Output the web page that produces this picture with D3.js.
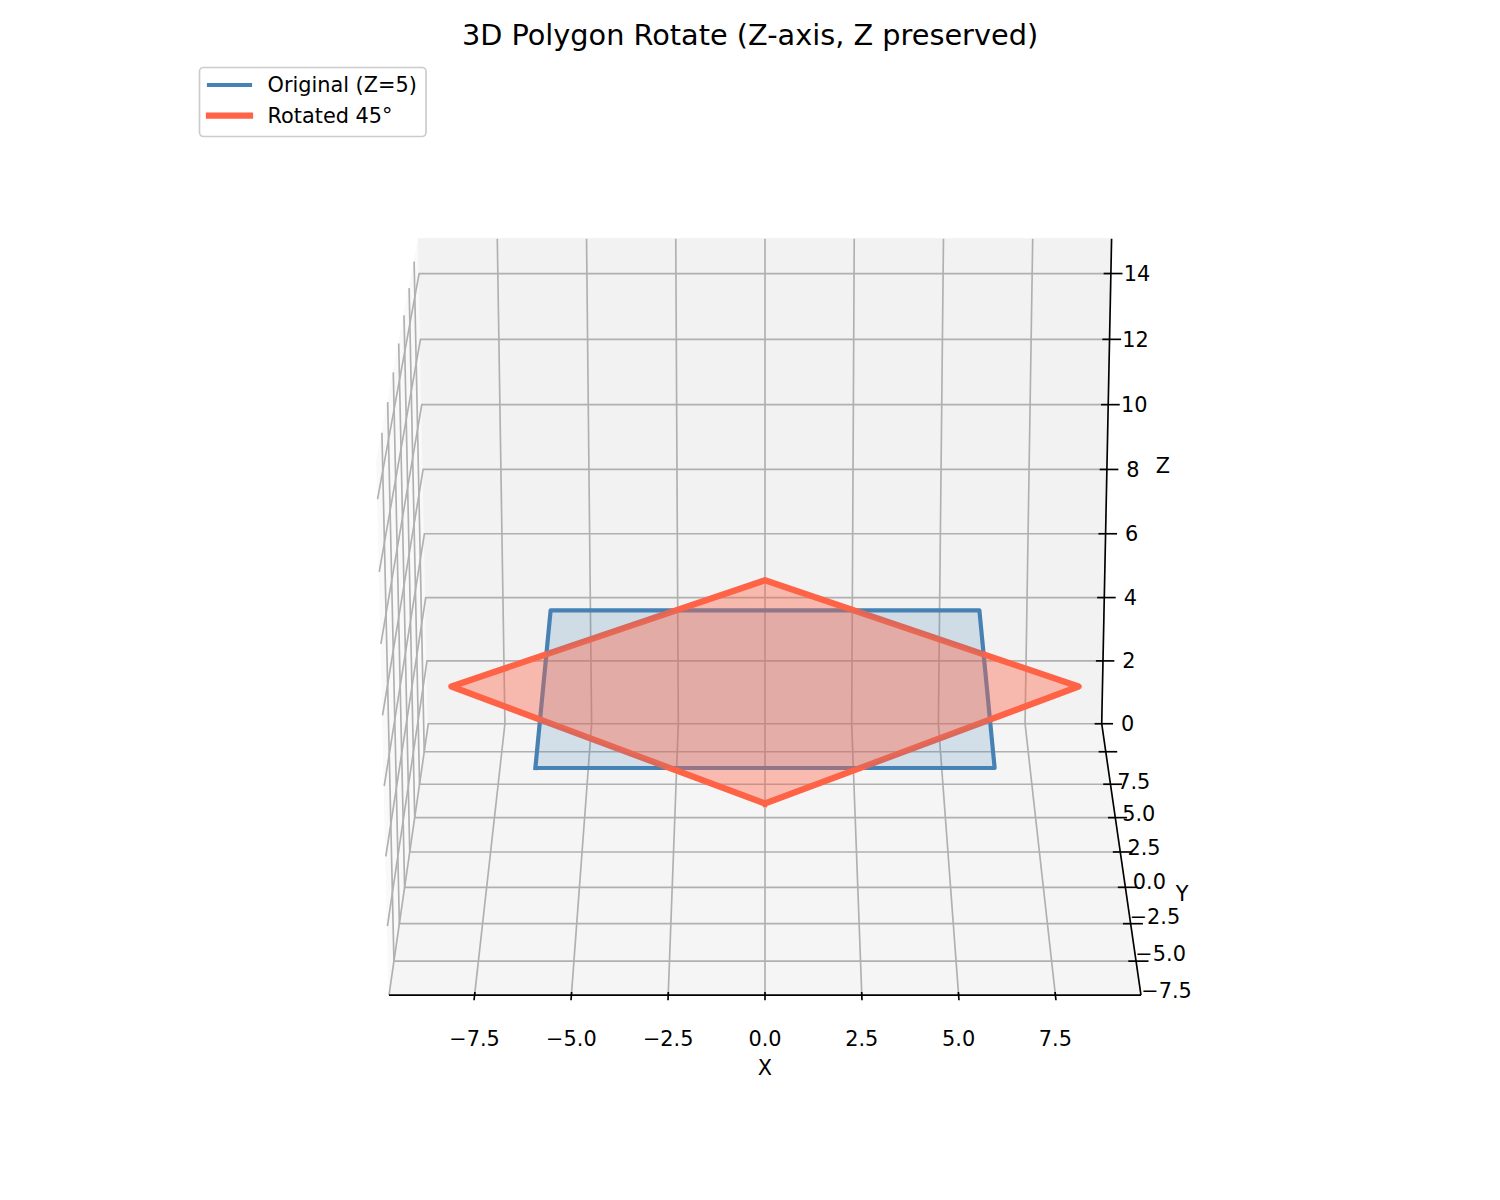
<!DOCTYPE html>
<html>
<head>
<meta charset="utf-8">
<script src="https://d3js.org/d3.v7.min.js"></script>
<style>
    body { margin: 0; background: #fff; }
    text { font-family: "DejaVu Sans"; fill: #000; }
</style>
</head>
<body>
<svg id="chart" width="1500" height="1200"></svg>
<script>
// Chart values
var xTicks = [-7.5, -5, -2.5, 0, 2.5, 5, 7.5];
var yTicks = [-7.5, -5, -2.5, 0, 2.5, 5, 7.5];
var zTicks = [0, 2, 4, 6, 8, 10, 12, 14];
var polygonZ = 5;
var originalX = [-6, 6, 6, -6];
var originalY = [-6, -6, 6, 6];
var rotatedX = [0, 8.485, 0, -8.485];
var rotatedY = [-8.485, 0, 8.485, 0];
var legendLabels = ["Original (Z=5)", "Rotated 45°"];

var blue = "#4682B4", red = "#FF6347", gridColor = "#b0b0b0";

// View of the 3D box, elev 20 looking along +y
var elev = 20 * Math.PI / 180, dist = 10;
var halfXY = 0.5952, halfZ = 0.4464;
var focal = 6060, centerX = 765, centerY = 601.6;

var xScale = d3.scaleLinear().domain([-9.71, 9.71]).range([-halfXY, halfXY]);
var yScale = d3.scaleLinear().domain([-9.71, 9.71]).range([-halfXY, halfXY]);
var zScale = d3.scaleLinear().domain([0, 15.05]).range([-halfZ, halfZ]);

// Box coordinates to screen pixels
function project(p){
    var depth = dist + p[1] * Math.cos(elev) - p[2] * Math.sin(elev);
    var up = p[1] * Math.sin(elev) + p[2] * Math.cos(elev);
    return [centerX + focal * p[0] / depth, centerY - focal * up / depth];
}

var line3d = d3.line().x(function(p){ return project(p)[0]; }).y(function(p){ return project(p)[1]; });
var svg = d3.select("#chart");

function path3d(points, closed){
    return line3d(points) + (closed ? "Z" : "");
}

// Panes
var panes = [
    {c: "#f9f9f9", p: [[-halfXY, -halfXY, -halfZ], [-halfXY, halfXY, -halfZ], [-halfXY, halfXY, halfZ], [-halfXY, -halfXY, halfZ]]},
    {c: "#f2f2f2", p: [[-halfXY, halfXY, -halfZ], [halfXY, halfXY, -halfZ], [halfXY, halfXY, halfZ], [-halfXY, halfXY, halfZ]]},
    {c: "#f5f5f5", p: [[-halfXY, -halfXY, -halfZ], [halfXY, -halfXY, -halfZ], [halfXY, halfXY, -halfZ], [-halfXY, halfXY, -halfZ]]}
];
svg.selectAll("path.pane").data(panes).enter().append("path")
    .attr("class", "pane")
    .attr("d", function(d){ return path3d(d.p, true); })
    .attr("fill", function(d){ return d.c; })
    .attr("stroke", function(d){ return d.c; })
    .attr("stroke-width", 1);

// Gridlines, each bends round the back corner of the box
var gridLines = [];
xTicks.forEach(function(t){
    var x = xScale(t);
    gridLines.push([[x, -halfXY, -halfZ], [x, halfXY, -halfZ], [x, halfXY, halfZ]]);
});
yTicks.forEach(function(t){
    var y = yScale(t);
    gridLines.push([[halfXY, y, -halfZ], [-halfXY, y, -halfZ], [-halfXY, y, halfZ]]);
});
zTicks.forEach(function(t){
    var z = zScale(t);
    gridLines.push([[-halfXY, -halfXY, z], [-halfXY, halfXY, z], [halfXY, halfXY, z]]);
});
svg.selectAll("path.grid").data(gridLines).enter().append("path")
    .attr("class", "grid")
    .attr("d", function(d){ return path3d(d, false); })
    .attr("fill", "none")
    .attr("stroke", gridColor)
    .attr("stroke-width", 1.67);

// Axis lines
var axisLines = [
    [[-halfXY, -halfXY, -halfZ], [halfXY, -halfXY, -halfZ]],
    [[halfXY, -halfXY, -halfZ], [halfXY, halfXY, -halfZ]],
    [[halfXY, halfXY, -halfZ], [halfXY, halfXY, halfZ]]
];
var tickIn = 0.0125, tickOut = 0.02;
xTicks.forEach(function(t){
    axisLines.push([[xScale(t), -halfXY + tickIn, -halfZ], [xScale(t), -halfXY - tickOut, -halfZ]]);
});
yTicks.forEach(function(t){
    axisLines.push([[halfXY - tickIn, yScale(t), -halfZ], [halfXY + tickOut, yScale(t), -halfZ]]);
});
zTicks.forEach(function(t){
    axisLines.push([[halfXY - tickIn, halfXY, zScale(t)], [halfXY + tickOut, halfXY, zScale(t)]]);
});
svg.selectAll("path.axis").data(axisLines).enter().append("path")
    .attr("class", "axis")
    .attr("d", function(d){ return path3d(d, false); })
    .attr("fill", "none")
    .attr("stroke", "#000")
    .attr("stroke-width", 1.67);

// Polygons: outlines go first, the translucent fills lie over them
function polygonPoints(xs, ys){
    return xs.map(function(x, i){ return [xScale(x), yScale(ys[i]), zScale(polygonZ)]; });
}
function drawOutline(points, color, width){
    svg.append("path")
        .attr("d", path3d(points.concat([points[0]]), false))
        .attr("fill", "none")
        .attr("stroke", color)
        .attr("stroke-width", width)
        .attr("stroke-linejoin", "round")
        .attr("stroke-linecap", "square");
}
function drawFill(points, color, opacity){
    svg.append("path")
        .attr("d", path3d(points, true))
        .attr("fill", color)
        .attr("fill-opacity", opacity);
}
var originalPoints = polygonPoints(originalX, originalY);
var rotatedPoints = polygonPoints(rotatedX, rotatedY);
drawOutline(originalPoints, blue, 4.17);
drawOutline(rotatedPoints, red, 6.25);
drawFill(originalPoints, blue, 0.2);
drawFill(rotatedPoints, red, 0.4);

// Tick labels
var fmt = function(v, digits){ return v.toFixed(digits).replace("-", "\u2212"); };
var tickFont = 20.83;
function label(x, y, str, size){
    svg.append("text").attr("x", x).attr("y", y)
        .attr("text-anchor", "middle").attr("dominant-baseline", "central")
        .attr("font-size", size || tickFont).text(str);
}
xTicks.forEach(function(t){
    var p = project([xScale(t), -halfXY, -halfZ]);
    label(p[0], p[1] + 44, fmt(t, 1));
});
yTicks.forEach(function(t){
    var p = project([halfXY * 1.082, yScale(t), -halfZ]);
    label(p[0], p[1] + 30, fmt(t, 1));
});
zTicks.forEach(function(t){
    var p = project([halfXY, halfXY, zScale(t)]);
    label(p[0] + 26, p[1] + 0.5, fmt(t, 0));
});
label(765, 1068, "X");
label(1182, 894, "Y");
label(1163, 466, "Z");

// Title
label(750, 35, "3D Polygon Rotate (Z-axis, Z preserved)", 28.75);

// Legend
var legend = svg.append("g");
legend.append("rect")
    .attr("x", 199.5).attr("y", 67.5).attr("width", 226.5).attr("height", 69).attr("rx", 4)
    .attr("fill", "#fff").attr("fill-opacity", 0.8).attr("stroke", "#ccc").attr("stroke-width", 1.67);
legendLabels.forEach(function(name, i){
    var ly = 85 + i * 30.5;
    legend.append("line")
        .attr("x1", 209).attr("x2", 250).attr("y1", ly).attr("y2", ly)
        .attr("stroke", i ? red : blue).attr("stroke-width", i ? 6.25 : 4.17)
        .attr("stroke-linecap", "square");
    legend.append("text").attr("x", 267.5).attr("y", ly + 0.4)
        .attr("dominant-baseline", "central").attr("font-size", tickFont).text(name);
});
</script>
</body>
</html>
